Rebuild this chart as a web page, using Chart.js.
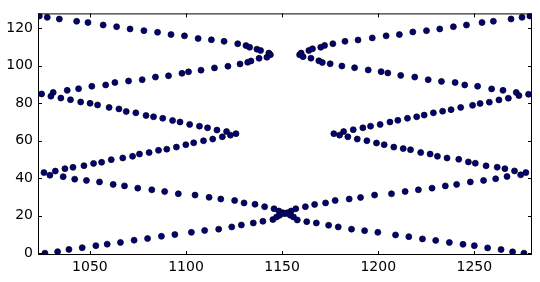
<!DOCTYPE html>
<html>
<head>
<meta charset="utf-8">
<script src="https://cdn.jsdelivr.net/npm/chart.js@4.4.1/dist/chart.umd.min.js"></script>
<style>
  html, body { margin: 0; padding: 0; background: #fff; }
  #wrap { width: 540px; height: 282px; }
</style>
</head>
<body>
<div id="wrap"><canvas id="chart" width="540" height="282"></canvas></div>
<script>
// axis setup
const xTicks = [1050, 1100, 1150, 1200, 1250];
const yTicks = [0, 20, 40, 60, 80, 100, 120];
const xRange = [1023, 1280];
const yRange = [-1, 128];

// left half as [x, y]
const leftTop = [[1023.7,126.6],[1027.8,125.9],[1034.1,125.0],[1043.1,123.8],[1049.0,123.1],[1056.9,121.8],[1063.9,120.9],[1070.9,119.7],[1078.1,118.8],[1085.2,117.9],[1092.2,116.7],[1099.2,116.0],[1106.3,114.6],[1113.2,113.9],[1119.8,113.1],[1126.9,111.8],[1131.2,110.8],[1133.1,109.9],[1136.9,108.9],[1138.8,108.2],[1143.1,106.8],[1143.9,105.9]];
const leftUpperRise = [[1024.9,85.0],[1030.9,85.8],[1038.2,86.9],[1044.1,87.8],[1051.0,89.1],[1058.2,89.8],[1063.0,91.1],[1070.1,91.9],[1077.2,92.6],[1084.1,94.0],[1090.9,94.7],[1097.9,96.0],[1101.3,96.8],[1107.8,97.7],[1114.8,98.9],[1121.8,99.8],[1128.1,101.0],[1132.1,101.9],[1133.8,102.6],[1138.0,104.0],[1142.1,104.6]];
const leftUpperFall = [[1029.7,83.8],[1034.9,82.8],[1039.9,81.9],[1045.2,80.7],[1050.1,80.0],[1054.0,79.1],[1060.0,77.8],[1065.1,77.0],[1068.9,75.6],[1073.9,74.9],[1079.2,73.5],[1083.1,72.8],[1087.9,72.0],[1093.0,70.8],[1096.9,70.0],[1101.9,68.7],[1107.0,67.8],[1111.2,66.9],[1116.1,65.7],[1121.1,64.9],[1126.0,63.8]];
const leftLowerRise = [[1026.1,43.0],[1032.0,43.8],[1037.0,45.1],[1041.2,45.8],[1046.9,46.7],[1051.9,47.9],[1056.1,48.5],[1061.1,49.9],[1067.1,50.8],[1072.2,51.7],[1075.8,52.9],[1080.8,53.7],[1085.7,54.9],[1090.0,55.5],[1095.0,56.6],[1099.9,57.9],[1104.0,58.9],[1109.1,60.0],[1113.9,60.9],[1118.9,62.1],[1123.1,63.0]];
const leftLowerFall = [[1029.2,41.6],[1036.1,40.8],[1042.1,39.5],[1048.2,38.8],[1055.0,38.0],[1062.1,36.7],[1068.0,35.9],[1074.9,34.7],[1082.2,33.8],[1088.9,32.9],[1096.0,31.7],[1104.7,31.0],[1112.0,29.8],[1118.1,28.9],[1125.3,28.1],[1130.2,26.8],[1135.9,26.1],[1140.9,24.8],[1145.8,23.7],[1148.3,22.5],[1150.3,21.6]];
const leftBottom = [[1026.6,0.0],[1033.2,0.8],[1039.1,2.0],[1046.0,2.9],[1053.1,4.0],[1059.0,4.8],[1065.9,5.7],[1073.0,6.9],[1080.0,7.8],[1087.2,9.0],[1094.2,9.9],[1102.8,11.1],[1109.7,12.1],[1117.0,12.8],[1123.8,14.0],[1128.8,15.0],[1135.0,16.1],[1140.0,17.0],[1145.2,17.9],[1147.1,19.3],[1148.7,20.2],[1150.8,21.1]];

// right half
const rightTop = [[1159.1,105.9],[1159.9,106.8],[1163.9,108.2],[1165.8,109.1],[1170.1,109.9],[1172.1,110.9],[1176.4,111.8],[1182.7,113.1],[1189.5,113.8],[1196.9,114.9],[1204.1,116.0],[1211.0,116.7],[1218.0,118.1],[1225.1,118.8],[1232.0,119.7],[1239.1,120.9],[1245.9,121.8],[1254.0,123.1],[1259.9,123.8],[1269.1,125.0],[1274.8,125.9],[1278.9,126.6]];
const rightUpperFall = [[1160.9,104.9],[1165.0,104.1],[1169.1,102.7],[1170.9,101.8],[1175.0,101.1],[1181.1,99.9],[1187.7,99.0],[1194.8,97.8],[1201.5,96.9],[1205.0,96.2],[1211.7,94.9],[1219.0,94.0],[1226.0,92.6],[1232.9,91.7],[1240.0,91.1],[1245.0,89.8],[1251.7,89.1],[1259.0,87.7],[1264.9,86.9],[1271.8,85.8],[1278.2,84.8]];
const rightUpperRise = [[1176.9,63.8],[1182.0,64.9],[1187.0,65.9],[1192.0,66.9],[1196.0,67.8],[1201.0,68.7],[1206.1,70.0],[1210.2,70.9],[1215.2,72.0],[1220.0,72.8],[1223.9,73.7],[1228.7,74.9],[1233.5,75.8],[1237.9,76.6],[1242.9,77.8],[1249.1,78.9],[1253.0,79.9],[1257.8,80.6],[1262.8,81.8],[1267.7,82.7],[1273.2,84.1]];
const rightLowerFall = [[1179.9,63.0],[1184.2,62.1],[1189.1,60.9],[1194.1,60.0],[1199.1,58.8],[1203.1,57.9],[1208.1,56.6],[1213.0,55.8],[1216.8,55.2],[1222.1,53.7],[1227.0,52.9],[1230.8,51.7],[1235.8,50.8],[1241.9,50.1],[1246.9,48.7],[1250.5,48.0],[1256.1,46.6],[1261.9,45.9],[1265.9,45.1],[1270.9,43.9],[1276.8,43.0]];
const rightLowerRise = [[1152.8,21.6],[1154.7,22.5],[1157.1,23.7],[1162.1,24.8],[1166.9,26.0],[1172.6,26.8],[1177.6,28.1],[1184.9,28.9],[1190.8,29.7],[1198.1,31.0],[1206.9,31.7],[1214.0,32.9],[1220.9,33.8],[1228.0,34.7],[1234.9,35.9],[1240.8,36.7],[1247.9,38.0],[1254.8,38.8],[1261.1,39.7],[1267.0,40.9],[1274.1,41.8]];
const rightBottom = [[1152.2,21.1],[1154.3,20.2],[1155.9,19.3],[1157.9,17.7],[1162.8,16.8],[1167.8,16.1],[1174.2,14.9],[1179.2,14.0],[1186.1,12.8],[1192.9,12.0],[1199.8,11.1],[1209.0,9.7],[1215.9,8.8],[1223.0,7.6],[1229.9,6.8],[1237.0,5.7],[1244.1,4.7],[1250.0,4.0],[1256.9,2.8],[1263.9,1.9],[1269.9,0.7],[1275.8,0.0]];

const segments = [leftTop, leftUpperRise, leftUpperFall, leftLowerRise, leftLowerFall, leftBottom,
                  rightTop, rightUpperFall, rightUpperRise, rightLowerFall, rightLowerRise, rightBottom];

const FONT = { family: '"DejaVu Sans", sans-serif', size: 14 };

// inward tick marks on all four sides plus the box, drawn over the points
const frameTicks = {
  id: 'frameTicks',
  afterDatasetsDraw(chart) {
    const { ctx, chartArea: a, scales: { x, y } } = chart;
    const len = 4;
    ctx.save();
    ctx.strokeStyle = '#000';
    ctx.lineWidth = 1;
    ctx.beginPath();
    x.ticks.forEach(t => {
      const px = Math.round(x.getPixelForValue(t.value)) + 0.5;
      ctx.moveTo(px, a.bottom); ctx.lineTo(px, a.bottom - len);
      ctx.moveTo(px, a.top); ctx.lineTo(px, a.top + len);
    });
    y.ticks.forEach(t => {
      const py = Math.round(y.getPixelForValue(t.value)) + 0.5;
      ctx.moveTo(a.left, py); ctx.lineTo(a.left + len, py);
      ctx.moveTo(a.right, py); ctx.lineTo(a.right - len, py);
    });
    ctx.stroke();
    ctx.strokeRect(a.left + 0.5, a.top + 0.5, a.right - a.left - 1, a.bottom - a.top - 1);
    ctx.restore();
  }
};

new Chart(document.getElementById('chart'), {
  type: 'scatter',
  data: {
    datasets: [{
      data: segments.flat().map(([x, y]) => ({ x, y })),
      backgroundColor: '#000080',
      borderColor: '#000000',
      borderWidth: 0.7,
      pointRadius: 3,
      clip: 0
    }]
  },
  options: {
    responsive: false,
    animation: false,
    layout: { padding: { top: 7, right: 8, left: 0, bottom: 0 } },
    plugins: {
      legend: { display: false },
      tooltip: { enabled: false }
    },
    scales: {
      x: {
        type: 'linear',
        min: xRange[0],
        max: xRange[1],
        grid: { display: false, drawTicks: false },
        border: { display: false },
        ticks: { color: '#000', font: FONT, padding: 4, maxRotation: 0, callback: v => String(v) },
        afterBuildTicks: s => { s.ticks = xTicks.map(v => ({ value: v })); },
        afterFit: s => { s.height = 27; }
      },
      y: {
        type: 'linear',
        min: yRange[0],
        max: yRange[1],
        grid: { display: false, drawTicks: false },
        border: { display: false },
        ticks: { color: '#000', font: FONT, padding: 5, callback: v => String(v) },
        afterBuildTicks: s => { s.ticks = yTicks.map(v => ({ value: v })); },
        afterFit: s => { s.width = 38; }
      }
    }
  },
  plugins: [frameTicks]
});
</script>
</body>
</html>
